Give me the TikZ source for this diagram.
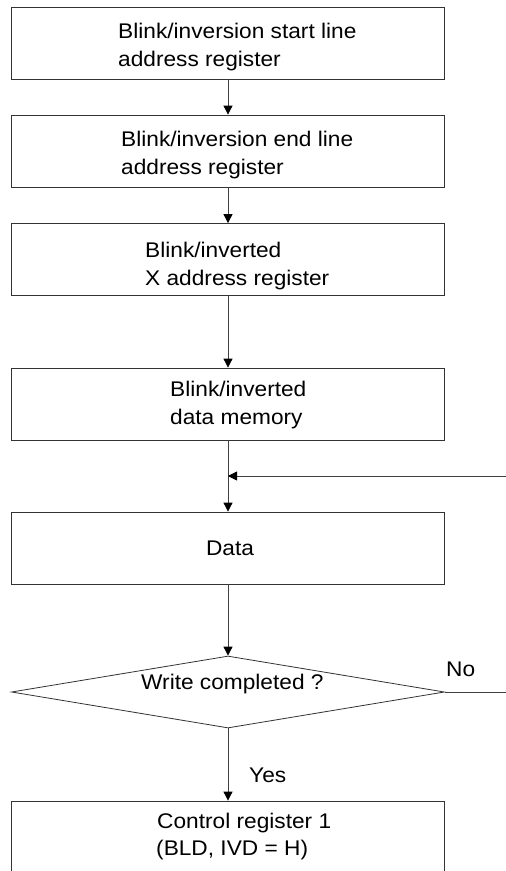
\documentclass[tikz,border=0pt]{standalone}
\usepackage{fontspec}
\setmainfont[FakeStretch=1.07]{Liberation Sans}
\usetikzlibrary{shapes.geometric,arrows.meta}
\begin{document}
\begin{tikzpicture}[x=1pt,y=-1pt,
  box/.style={draw=black!80, line width=0.8pt, minimum width=433pt, minimum height=72pt, inner sep=0pt},
  txt/.style={font=\fontsize{21.2}{26}\selectfont, inner sep=0pt, anchor=base west},
  arr/.style={draw=black!75, line width=0.8pt, -{Triangle[width=9pt,length=9pt,color=black]}},
  ln/.style={draw=black!75, line width=0.8pt}]
\useasboundingbox (0,0) rectangle (506,871);
\clip (0,0) rectangle (506,871);
\fill[white] (0,0) rectangle (506,871);
% boxes
\node[box] (b1) at (228,43) {};
\node[box] (b2) at (228,151) {};
\node[box] (b3) at (228,259.5) {};
\node[box] (b4) at (228,404) {};
\node[box] (data) at (228,548) {};
\node[draw=black!80, line width=0.8pt, diamond, minimum width=433pt, minimum height=72pt, inner sep=0pt] (dia) at (228,692) {};
\node[box, minimum height=100pt] (ctl) at (228,851) {};
% texts
\node[txt] (t1a) at (118,38.5) {Blink/inversion start line};
\node[txt] (t1b) at (118,66.5) {address register};
\node[txt] (t2a) at (121,146) {Blink/inversion end line};
\node[txt] (t2b) at (121,174) {address register};
\node[txt] (t3a) at (145,257) {Blink/inverted};
\node[txt] (t3b) at (145,285) {X address register};
\node[txt] (t4a) at (170,396) {Blink/inverted};
\node[txt] (t4b) at (170,424) {data memory};
\node[txt, anchor=base] (td) at (230,555) {Data};
\node[txt] (tw) at (141,689) {Write completed ?};
\node[txt] (tno) at (446,676) {No};
\node[txt] (tyes) at (249,782) {Yes};
\node[txt] (tc1) at (157,828) {Control register 1};
\node[txt] (tc2) at (156,855) {(BLD, IVD = H)};
% connectors
\coordinate (fbR) at (506,476);
\coordinate (fbJ) at (228,476);
\coordinate (noR) at (506,692);
\draw[arr] (b1.south) -- (b2.north);
\draw[arr] (b2.south) -- (b3.north);
\draw[arr] (b3.south) -- (b4.north);
\draw[arr] (b4.south) -- (data.north);
\draw[arr] (fbR) -- (fbJ);
\draw[arr] (data.south) -- (dia.north);
\draw[ln] (dia.east) -- (noR);
\draw[arr] (dia.south) -- (ctl.north);
\end{tikzpicture}
\end{document}
